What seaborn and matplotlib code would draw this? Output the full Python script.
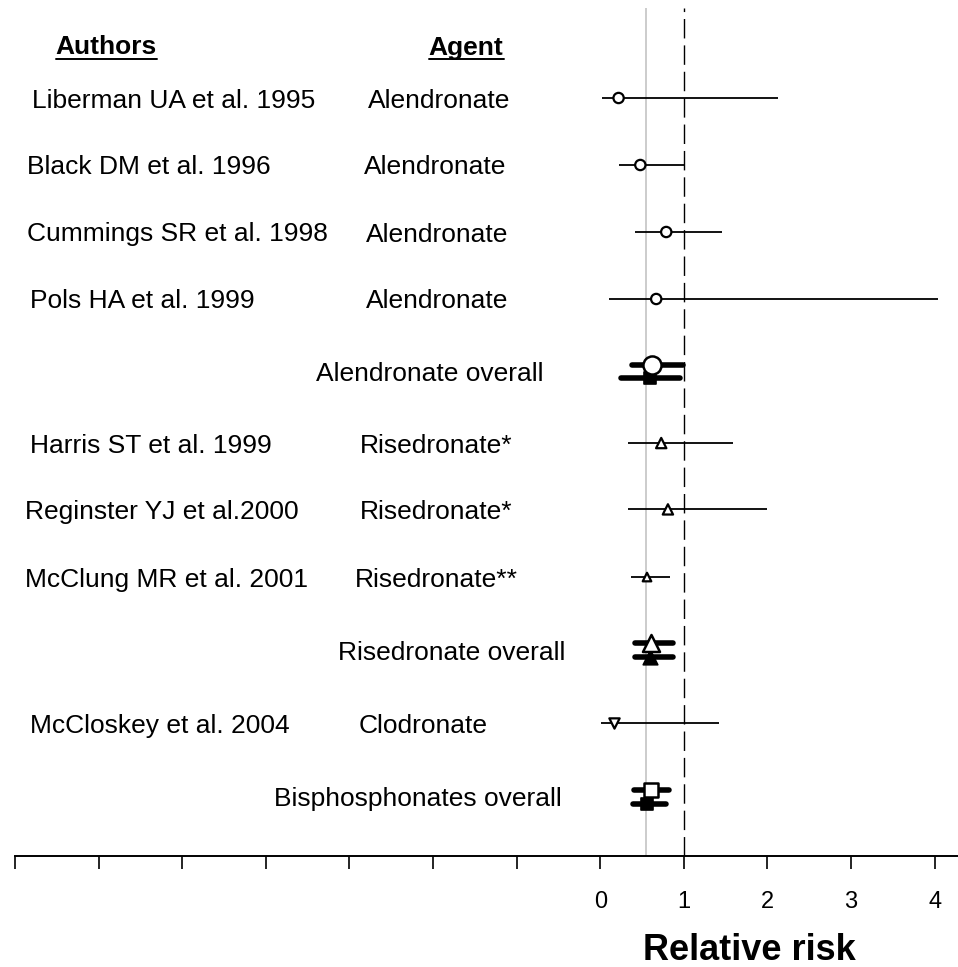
import matplotlib
matplotlib.use("Agg")
import matplotlib.pyplot as plt
from matplotlib.lines import Line2D
import seaborn as sns
import pandas as pd

# ---------------- data ----------------
authors = ["Liberman UA et al. 1995", "Black DM et al. 1996", "Cummings SR et al. 1998",
           "Pols HA et al. 1999", "Harris ST et al. 1999", "Reginster YJ et al.2000",
           "McClung MR et al. 2001", "McCloskey et al. 2004"]
agents = ["Alendronate", "Alendronate", "Alendronate", "Alendronate",
          "Risedronate*", "Risedronate*", "Risedronate**", "Clodronate"]
study_rr = [0.22, 0.48, 0.79, 0.67, 0.73, 0.81, 0.56, 0.16]
study_lo = [0.02, 0.23, 0.42, 0.11, 0.33, 0.33, 0.37, 0.01]
study_hi = [2.13, 1.00, 1.46, 4.04, 1.59, 2.00, 0.83, 1.42]
study_marker = ["o", "o", "o", "o", "^", "^", "^", "v"]

overall_labels = ["Alendronate overall", "Risedronate overall", "Bisphosphonates overall"]
overall_marker_open = ["o", "^", "s"]
overall_marker_filled = ["s", "^", "s"]
# upper (open marker) estimate
ov1_rr = [0.62, 0.61, 0.61]
ov1_lo = [0.38, 0.42, 0.41]
ov1_hi = [0.99, 0.87, 0.82]
# lower (filled marker) estimate
ov2_rr = [0.60, 0.60, 0.56]
ov2_lo = [0.25, 0.42, 0.39]
ov2_hi = [0.95, 0.87, 0.79]

pooled_rr = 0.55
xticks = [-7, -6, -5, -4, -3, -2, -1, 0, 1, 2, 3, 4]
xticklabels = ["", "", "", "", "", "", "", "0", "1", "2", "3", "4"]

# ---------------- layout ----------------
# vertical row positions (layout, in row units)
study_rows = [0, 1, 2, 3, 5.15, 6.14, 7.15, 9.33]
overall_rows = [4.08, 8.24, 10.43]
study_size = [55, 55, 55, 55, 55, 55, 38, 55]
ov1_size = [170, 150, 110]
ov2_size = [75, 110, 80]
author_px = [32, 27, 27, 30, 30, 25, 25, 30]
agent_px = [368, 364, 366, 366, 360, 360, 355, 358]
overall_center_px = [430, 451, 418]

sns.set_style("white")
plt.rcParams["font.family"] = ["Liberation Sans", "DejaVu Sans"]
plt.rcParams["text.color"] = "black"
plt.rcParams["xtick.color"] = "black"
plt.rcParams["axes.labelcolor"] = "black"

W, H = 958, 967
fig = plt.figure(figsize=(W / 100, H / 100), dpi=100)
ax = fig.add_axes([15 / W, 1 - 856 / H, (W - 15) / W, (856 - 8) / H])

unit = 83.6
rowpx = 67.0
ax.set_xlim(-7, -7 + (W - 15) / unit)
ax.set_ylim((856 - 98) / rowpx, -(98 - 8) / rowpx)

ax.axvline(pooled_rr, color="#c8c8c8", lw=1.3, zorder=1)
ax.axvline(1, color="black", lw=1.0, linestyle=(0, (14, 5)), zorder=1)

df = pd.DataFrame({"row": study_rows, "rr": study_rr, "lo": study_lo, "hi": study_hi,
                   "marker": study_marker, "size": study_size})
ax.hlines(df["row"], df["lo"], df["hi"], color="black", lw=1.3, zorder=2)
for m, sub in df.groupby("marker"):
    sns.scatterplot(data=sub, x="rr", y="row", marker=m, s=sub["size"].values,
                    facecolor="white", edgecolor="black", linewidth=1.6,
                    ax=ax, zorder=4, legend=False)

off = 0.1
for i in range(len(overall_rows)):
    y1 = overall_rows[i] - off
    y2 = overall_rows[i] + off
    ax.plot([ov1_lo[i], ov1_hi[i]], [y1, y1], color="black", lw=4.0,
            solid_capstyle="round", zorder=2)
    ax.plot([ov2_lo[i], ov2_hi[i]], [y2, y2], color="black", lw=4.0,
            solid_capstyle="round", zorder=2)
    sns.scatterplot(x=[ov2_rr[i]], y=[y2], marker=overall_marker_filled[i], s=ov2_size[i],
                    color="black", edgecolor="black", linewidth=1.2, ax=ax, zorder=4,
                    legend=False)
    sns.scatterplot(x=[ov1_rr[i]], y=[y1], marker=overall_marker_open[i], s=ov1_size[i],
                    facecolor="white", edgecolor="black", linewidth=1.8, ax=ax, zorder=5,
                    legend=False)

fs = 19
def px2x(px):
    return (px - 600) / unit

for row, a, g, ap, gp in zip(study_rows, authors, agents, author_px, agent_px):
    ax.text(px2x(ap), row, a, fontsize=fs, ha="left", va="center_baseline")
    ax.text(px2x(gp), row, g, fontsize=fs, ha="left", va="center_baseline")
for row, lab, cp in zip(overall_rows, overall_labels, overall_center_px):
    ax.text(px2x(cp), row, lab, fontsize=fs, ha="center", va="center_baseline")

hdr_y = -(98 - 45) / rowpx
h1 = ax.text(px2x(106), hdr_y, "Authors", fontsize=fs, fontweight="bold",
             ha="center", va="center_baseline")
h2 = ax.text(px2x(466), hdr_y, "Agent", fontsize=fs, fontweight="bold",
             ha="center", va="center_baseline")

# axis styling
for s in ["top", "left", "right"]:
    ax.spines[s].set_visible(False)
ax.spines["bottom"].set_color("black")
ax.spines["bottom"].set_linewidth(1.4)
ax.set_yticks([])
ax.set_xticks(xticks)
ax.set_xticklabels(xticklabels)
ax.tick_params(axis="x", direction="out", length=9, width=1.2, color="black",
               labelcolor="black", pad=16, labelsize=17, bottom=True)
ax.set_xlabel("")
ax.set_ylabel("")

fig.text(749 / W, 1 - 950 / H, "Relative risk", fontsize=26, fontweight="bold",
         ha="center", va="center")

# underline headers
fig.canvas.draw()
rend = fig.canvas.get_renderer()
for t in (h1, h2):
    bb = t.get_window_extent(renderer=rend)
    yline = bb.y0 + 1
    fig.add_artist(Line2D([bb.x0 / W, bb.x1 / W], [yline / H, yline / H],
                          color="black", lw=1.4, transform=fig.transFigure))

fig.savefig("out.png", dpi=100)
